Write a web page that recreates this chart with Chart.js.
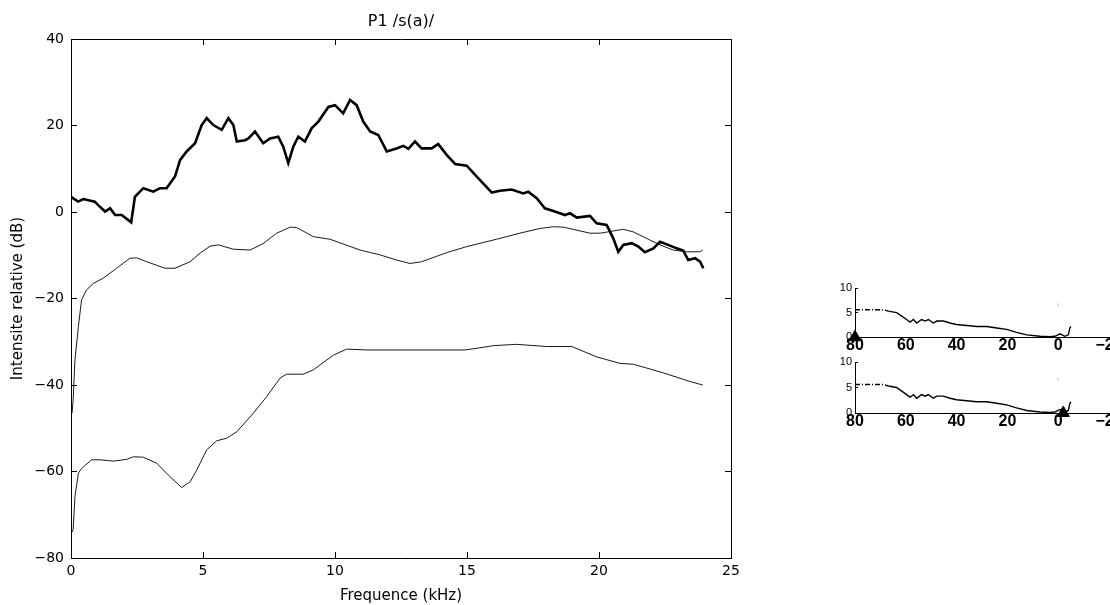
<!DOCTYPE html>
<html>
<head>
<meta charset="utf-8">
<script src="https://cdn.jsdelivr.net/npm/chart.js@4.4.1/dist/chart.umd.min.js"></script>
<style>
  html, body { margin: 0; padding: 0; background: #fff; }
  body { width: 1110px; height: 605px; position: relative; overflow: hidden; }
  canvas { position: absolute; }
</style>
</head>
<body>
<canvas id="mainChart" width="760" height="605" style="left:0;top:0"></canvas>
<canvas id="smallTop" width="320" height="90" style="left:820px;top:270px"></canvas>
<canvas id="smallBottom" width="320" height="90" style="left:820px;top:345px"></canvas>
<script>
"use strict";

// main plot: spectrum (thick), upper thin curve, lower thin curve
const spectrumFreq = [0.0, 0.27, 0.47, 0.9, 1.1, 1.29, 1.48, 1.67, 1.92, 2.28, 2.42, 2.74, 3.12, 3.37, 3.62, 3.94, 4.13, 4.38, 4.7, 4.95,
    5.14, 5.39, 5.71, 5.96, 6.15, 6.28, 6.59, 6.72, 6.97, 7.28, 7.54, 7.85, 8.04, 8.23, 8.42, 8.61, 8.86, 9.12, 9.37, 9.75,
    10.0, 10.31, 10.57, 10.82, 11.07, 11.33, 11.64, 11.96, 12.33, 12.59, 12.78, 13.03, 13.28, 13.66, 13.91, 14.23, 14.55, 14.99, 15.37, 15.94,
    16.25, 16.69, 17.13, 17.32, 17.64, 17.95, 18.33, 18.71, 18.9, 19.16, 19.66, 19.91, 20.29, 20.42, 20.54, 20.73, 20.92, 21.24, 21.49, 21.74,
    22.06, 22.31, 22.62, 22.94, 23.19, 23.38, 23.64, 23.83, 23.95];
const spectrumDb = [3.5, 2.4, 3.0, 2.4, 1.2, 0.1, 0.85, -0.7, -0.7, -2.4, 3.5, 5.5, 4.7, 5.5, 5.5, 8.2, 12.0, 14.0, 15.9, 20.1,
    21.7, 20.1, 19.0, 21.7, 20.1, 16.3, 16.6, 17.0, 18.6, 15.9, 17.0, 17.4, 15.1, 11.3, 15.1, 17.4, 16.3, 19.4, 20.9, 24.3,
    24.7, 22.8, 25.9, 24.7, 20.9, 18.6, 17.8, 14.0, 14.7, 15.3, 14.6, 16.3, 14.7, 14.7, 15.7, 13.2, 11.1, 10.7, 8.2, 4.5,
    4.9, 5.2, 4.3, 4.7, 3.2, 0.85, 0.1, -0.7, -0.3, -1.3, -0.9, -2.6, -3.0, -4.6, -6.1, -9.2, -7.6, -7.2, -8.0, -9.3,
    -8.4, -6.9, -7.6, -8.4, -8.9, -11.1, -10.7, -11.5, -13.0];

const upperFreq = [0.04, 0.08, 0.15, 0.28, 0.4, 0.59, 0.85, 1.22, 1.73, 2.23, 2.49, 2.87, 3.56, 3.94, 4.51, 4.89, 5.27, 5.58, 6.15, 6.78,
    7.28, 7.79, 8.3, 8.55, 9.18, 9.81, 10.95, 11.7, 12.33, 12.84, 13.28, 14.23, 14.99, 16.12, 17.0, 17.77, 18.27, 18.65, 19.66, 20.04,
    20.92, 21.3, 21.8, 22.31, 22.81, 23.32, 23.83, 23.93];
const upperDb = [-46.5, -43.5, -34.2, -26.5, -20.3, -18.0, -16.5, -15.3, -13.0, -10.7, -10.6, -11.5, -13.0, -13.0, -11.5, -9.5, -7.9, -7.6, -8.6, -8.8,
    -7.3, -4.9, -3.5, -3.6, -5.7, -6.3, -8.8, -9.9, -11.1, -11.9, -11.5, -9.4, -8.0, -6.3, -4.9, -3.8, -3.4, -3.5, -4.9, -4.9,
    -4.0, -4.6, -6.1, -7.6, -8.8, -9.2, -9.2, -8.8];

const lowerFreq = [0.04, 0.08, 0.15, 0.28, 0.4, 0.78, 1.1, 1.6, 2.11, 2.36, 2.74, 3.25, 3.75, 4.19, 4.51, 4.76, 5.14, 5.52, 5.9, 6.28,
    6.91, 7.41, 7.92, 8.17, 8.8, 9.18, 9.94, 10.44, 11.2, 12.46, 14.92, 15.49, 16.0, 16.88, 18.02, 18.97, 19.91, 20.8, 21.3, 22.44,
    23.45, 23.93];
const lowerDb = [-74.0, -73.5, -65.8, -60.4, -59.3, -57.3, -57.3, -57.6, -57.2, -56.6, -56.7, -58.1, -61.2, -63.7, -62.4, -59.7, -55.0, -52.9, -52.3, -50.8,
    -46.5, -42.7, -38.4, -37.5, -37.5, -36.5, -33.1, -31.7, -31.9, -31.9, -31.9, -31.4, -30.9, -30.6, -31.1, -31.1, -33.5, -35.0, -35.2, -37.2,
    -39.2, -40.0];

// small plots on the right (same trace, marker at a different position)
const trackPos = [80, 68.8, 66.9, 63.6, 61.6, 59.7, 58.3, 57.0, 55.7, 53.8, 52.4, 51.1, 49.2, 47.8, 45.2, 42.6, 40.0, 36.0, 32.1, 28.2,
    24.2, 20.3, 16.4, 12.4, 7.2, 3.3, 1.3, -0.7, -2.6, -4.0, -4.6, -5.0];
const trackVal = [5.6, 5.6, 5.3, 5.0, 4.3, 3.6, 3.1, 3.6, 2.9, 3.6, 3.3, 3.6, 2.9, 3.3, 3.3, 2.9, 2.6, 2.4, 2.2, 2.2,
    1.9, 1.6, 1.0, 0.5, 0.2, 0.1, 0.2, 0.7, 0.2, 0.5, 1.9, 2.2];
const dashEndPos = 68.8;
const markerTopPos = [80];
const markerBottomPos = [-2];
const markerVal = [0];
const tickMarkPos = [0, 0];
const tickMarkVal = [6.3, 6.9];

const mainXTicks = [0, 25, 5];
const mainYTicks = [-80, 40, 20];
const smallXTicks = [-20, 80, 20];
const smallYTicks = [0, 10, 5];

function toPoints(xs, ys) {
    return xs.map((x, i) => ({ x: x, y: ys[i] }));
}

const withMinus = v => String(v).replace('-', '\u2212');

Chart.defaults.font.family = '"DejaVu Sans", sans-serif';
Chart.defaults.color = '#000';
Chart.defaults.animation = false;
Chart.defaults.plugins.legend.display = false;
Chart.defaults.plugins.tooltip.enabled = false;

const frameGrid = { drawOnChartArea: false, drawTicks: true, tickLength: -6, color: '#000', lineWidth: 1 };
const frameBorder = { display: true, color: '#000', width: 1 };

new Chart(document.getElementById('mainChart'), {
    type: 'line',
    data: {
        datasets: [
            { data: toPoints(spectrumFreq, spectrumDb), borderColor: '#000', borderWidth: 2.6 },
            { data: toPoints(upperFreq, upperDb), borderColor: '#1a1a1a', borderWidth: 1 },
            { data: toPoints(lowerFreq, lowerDb), borderColor: '#1a1a1a', borderWidth: 1 }
        ]
    },
    options: {
        responsive: false,
        elements: { point: { radius: 0 }, line: { tension: 0 } },
        layout: { padding: { left: 0, right: 29, top: 0, bottom: 0 } },
        scales: {
            x: {
                type: 'linear', position: 'bottom',
                min: mainXTicks[0], max: mainXTicks[1],
                ticks: { stepSize: mainXTicks[2], font: { size: 14 }, padding: 11, maxRotation: 0 },
                grid: frameGrid, border: frameBorder,
                title: { display: true, text: 'Frequence (kHz)', font: { size: 15 }, padding: { top: 0, bottom: 0 } },
                afterFit: s => { s.height = 47; }
            },
            // top axis carries the plot title so it is centred over the frame
            x2: {
                type: 'linear', position: 'top',
                min: mainXTicks[0], max: mainXTicks[1],
                ticks: { stepSize: mainXTicks[2], display: false },
                grid: frameGrid, border: frameBorder,
                title: { display: true, text: 'P1 /s(a)/', font: { size: 16 }, padding: { top: 12, bottom: 0 } },
                afterFit: s => { s.height = 39; }
            },
            y: {
                type: 'linear', position: 'left',
                min: mainYTicks[0], max: mainYTicks[1],
                ticks: { stepSize: mainYTicks[2], font: { size: 14 }, padding: 13, callback: withMinus },
                grid: frameGrid, border: frameBorder,
                title: { display: true, text: 'Intensite relative (dB)', font: { size: 15 }, padding: { top: 9, bottom: 0 } },
                afterFit: s => { s.width = 71; }
            },
            y2: {
                type: 'linear', position: 'right',
                min: mainYTicks[0], max: mainYTicks[1],
                ticks: { stepSize: mainYTicks[2], display: false },
                grid: frameGrid, border: frameBorder,
                afterFit: s => { s.width = 0; }
            }
        }
    }
});

function smallChart(canvasId, markerPos, topPad, axisHeight) {
    new Chart(document.getElementById(canvasId), {
        type: 'line',
        data: {
            datasets: [
                {
                    data: toPoints(trackPos, trackVal), borderColor: '#000', borderWidth: 1.4,
                    segment: { borderDash: ctx => ctx.p0.parsed.x > dashEndPos - 0.1 ? [5, 2, 1, 2] : undefined }
                },
                {
                    data: toPoints(tickMarkPos, tickMarkVal), borderColor: '#bbb', borderWidth: 1
                },
                {
                    data: toPoints(markerPos, markerVal), showLine: false, clip: false,
                    pointStyle: 'triangle', pointRadius: 7, backgroundColor: '#000', borderColor: '#000', borderWidth: 1
                }
            ]
        },
        options: {
            responsive: false,
            elements: { point: { radius: 0 }, line: { tension: 0 } },
            layout: { padding: { left: 0, right: 31, top: topPad, bottom: 0 } },
            scales: {
                x: {
                    type: 'linear', position: 'bottom', reverse: true,
                    min: smallXTicks[0], max: smallXTicks[1],
                    ticks: {
                        stepSize: smallXTicks[2], padding: -1, maxRotation: 0, callback: withMinus,
                        font: { family: '"Liberation Sans", sans-serif', size: 16, weight: 'bold' }
                    },
                    grid: { drawOnChartArea: false, drawTicks: false },
                    border: { display: true, color: '#000', width: 1 },
                    afterFit: s => { s.height = axisHeight; }
                },
                y: {
                    type: 'linear', position: 'left',
                    min: smallYTicks[0], max: smallYTicks[1],
                    ticks: { stepSize: smallYTicks[2], font: { family: '"Liberation Sans", sans-serif', size: 11 }, padding: 6 },
                    grid: { drawOnChartArea: false, drawTicks: true, tickLength: -3, color: '#000' },
                    border: { display: true, color: '#000', width: 1 },
                    afterFit: s => { s.width = 35; }
                }
            }
        }
    });
}

smallChart('smallTop', markerTopPos, 18, 22.7);
smallChart('smallBottom', markerBottomPos, 17, 22);
</script>
</body>
</html>
